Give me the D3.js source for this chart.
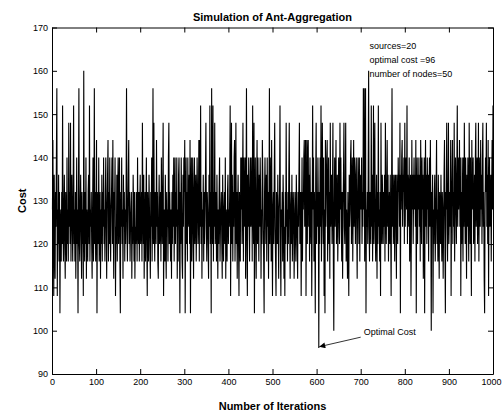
<!DOCTYPE html>
<html>
<head>
<meta charset="utf-8">
<script src="https://cdn.jsdelivr.net/npm/d3@7"></script>
<style>
  body { margin: 0; background: #fff; }
  svg { font-family: Arial, "Liberation Sans", sans-serif; }
  .axis text { font-size: 9px; fill: #000; }
  .axis path, .axis line { stroke: #000; }
  .lbl { font-size: 11px; font-weight: bold; }
  .note { font-size: 9px; }
</style>
</head>
<body>
<div id="div_chart"></div>
<script>
// cost value of every iteration 1..1000
var cost = [
  128,144,124,108,136,120,112,132,124,140, 156,108,128,120,136,116,132,104,124,128, 116,132,120,152,124,116,128,136,120,112, 132,124,116,140,120,128,116,148,124,132, 120,148,116,128,136,124,116,132,152,120,
  128,116,132,112,124,140,120,128,104,132, 156,120,116,128,136,124,112,132,120,128, 108,160,124,116,132,120,140,112,128,124, 116,132,136,120,152,116,128,124,132,120, 112,128,140,116,124,156,120,132,116,128,
  144,104,128,132,120,140,116,124,132,112, 128,120,136,116,132,124,140,120,128,116, 132,140,124,112,128,136,144,116,132,120, 140,124,116,128,132,140,120,144,124,112, 132,128,140,108,124,120,136,116,132,140,
  120,128,140,116,104,132,124,140,120,128, 112,136,124,132,116,128,120,132,156,124, 116,128,136,144,120,132,116,124,128,132, 112,124,120,136,128,116,132,112,124,120, 132,128,116,140,124,120,132,116,128,136,
  120,124,132,116,148,128,120,136,112,124, 132,116,128,140,120,108,132,124,116,136, 128,120,112,132,124,140,116,128,156,120, 148,124,116,132,128,120,144,124,132,116, 112,128,136,120,124,132,116,140,128,120,
  132,148,108,124,128,116,136,120,112,132, 124,128,116,140,148,120,132,124,116,128, 112,132,120,136,124,140,116,128,140,120, 132,124,140,112,128,116,136,140,124,104, 132,120,140,128,116,112,136,124,140,132,
  144,104,128,140,120,132,116,140,124,128, 136,120,144,104,132,140,116,124,140,128, 112,132,140,120,128,136,116,124,140,132, 120,128,144,116,144,124,152,120,132,112, 128,124,136,116,132,120,128,136,148,124,
  116,132,128,120,112,136,124,152,120,132, 104,156,128,120,152,116,132,124,148,120, 128,132,116,136,124,112,128,120,132,140, 116,124,128,132,120,112,136,124,116,128, 132,120,140,112,128,124,116,132,136,120,
  128,124,132,152,108,128,148,120,136,116, 132,124,140,144,116,128,148,120,132,112, 128,136,120,108,132,124,116,140,128,140, 120,132,148,116,140,124,128,140,112,132, 156,120,108,136,124,140,128,116,132,140,
  124,128,140,116,152,132,120,148,104,128, 140,124,112,132,144,120,140,128,116,136, 124,140,132,112,128,120,144,136,124,116, 104,132,140,128,120,136,116,140,124,132, 112,128,156,120,140,132,116,144,124,108,
  128,132,120,136,148,124,116,108,132,128, 120,136,124,112,128,132,152,120,108,128, 124,132,116,136,128,112,124,108,132,120, 148,124,128,116,132,120,136,148,124,112, 128,132,120,136,116,124,132,128,112,120,
  132,124,116,136,128,120,112,132,124,136, 148,120,128,132,108,124,140,116,132,128, 140,144,124,132,144,108,128,144,120,140, 144,124,136,116,140,128,120,132,108,124, 152,128,140,116,132,124,104,136,148,120,
  132,124,140,128,96,132,120,140,124,152, 116,128,148,132,120,140,108,128,104,144, 124,132,140,144,116,128,140,120,132,112, 148,124,128,136,120,132,148,116,100,128, 140,124,132,144,120,128,136,116,124,140,
  132,120,148,128,140,124,116,132,112,128, 136,148,124,120,132,148,116,128,124,112, 132,120,108,136,124,128,140,144,120,132, 140,116,128,144,124,140,132,120,136,140, 124,112,132,140,128,120,140,116,136,132,
  128,140,120,132,124,156,128,156,116,132, 156,104,128,124,132,120,136,160,124,116, 132,128,120,152,124,136,116,128,152,120, 132,148,124,116,128,136,112,132,120,152, 124,128,116,132,108,148,124,120,136,128,
  120,132,124,136,116,148,128,120,132,144, 124,136,116,128,132,120,136,124,108,132, 156,124,136,120,128,136,116,132,136,124, 112,136,128,120,140,132,136,124,148,104, 136,128,140,144,124,136,132,140,120,148,
  124,136,140,128,152,120,136,132,124,140, 116,132,136,108,124,144,128,136,120,132, 140,128,136,124,144,104,132,140,120,136, 128,140,124,136,116,144,132,120,140,128, 136,112,128,140,104,132,144,124,136,120,
  140,128,136,116,132,140,124,144,128,100, 132,124,136,104,128,120,132,136,116,124, 132,144,120,128,116,136,124,112,132,128, 120,136,124,116,132,128,112,124,136,144, 120,104,132,128,148,124,116,132,148,120,
  128,132,124,144,108,128,136,144,120,132, 124,148,116,128,140,132,120,136,152,124, 140,128,132,144,124,140,108,132,120,140, 128,116,140,124,148,132,120,140,128,112, 136,124,140,128,116,148,132,120,140,124,
  108,144,128,132,140,120,124,136,116,140, 148,124,132,140,120,128,148,116,132,140, 124,144,128,136,120,140,148,124,132,112, 104,128,140,132,148,124,136,120,144,108, 132,140,124,128,136,116,132,144,128,152
];

var xTicks = [0, 100, 200, 300, 400, 500, 600, 700, 800, 900, 1000];
var yTicks = [90, 100, 110, 120, 130, 140, 150, 160, 170];
var notes = ["sources=20", "optimal cost =96", "number of nodes=50"];
var optimal = {iter: 605, cost: 96, label: "Optimal Cost"};

var margin = {top: 27.5, right: 9, bottom: 43, left: 52},
  width = 502 - margin.left - margin.right,
  height = 417 - margin.top - margin.bottom;

var x = d3.scaleLinear()
  .domain([0, 1000])
  .range([0, width]);

var y = d3.scaleLinear()
  .domain([90, 170])
  .range([height, 0]);

var svg = d3.select('#div_chart')
  .append('svg')
    .attr('width', 502)
    .attr('height', 417)
    .append('g')
      .attr('transform', 'translate(' + margin.left + ',' + margin.top + ')');

// the cost trace
var line = d3.line()
  .x(function(d, i) { return x(i + 1); })
  .y(function(d) { return y(d); });

svg.append('path')
  .datum(cost)
  .attr('d', line)
  .attr('fill', 'none')
  .attr('stroke', '#000')
  .attr('stroke-width', 1.1);

// box with inward ticks on all sides
var xAxis = svg.append('g')
  .attr('class', 'axis')
  .attr('transform', 'translate(0,' + height + ')')
  .call(d3.axisBottom(x).tickValues(xTicks).tickFormat(d3.format('d'))
    .tickSizeInner(-5).tickSizeOuter(0).tickPadding(5));

// keep the last label inside the window
xAxis.selectAll('.tick text')
  .filter(function(d) { return d === 1000; })
  .attr('text-anchor', 'end')
  .attr('dx', '0.9em');

svg.append('g')
  .attr('class', 'axis')
  .call(d3.axisTop(x).tickValues(xTicks).tickSizeInner(-5).tickSizeOuter(0).tickFormat(''));

svg.append('g')
  .attr('class', 'axis')
  .call(d3.axisLeft(y).tickValues(yTicks).tickSizeInner(-5).tickSizeOuter(0).tickPadding(4));

svg.append('g')
  .attr('class', 'axis')
  .attr('transform', 'translate(' + width + ',0)')
  .call(d3.axisRight(y).tickValues(yTicks).tickSizeInner(-5).tickSizeOuter(0).tickFormat(''));

// titles
svg.append('text')
  .attr('class', 'lbl')
  .attr('x', width / 2)
  .attr('y', -7)
  .attr('text-anchor', 'middle')
  .text('Simulation of Ant-Aggregation');

svg.append('text')
  .attr('class', 'lbl')
  .attr('x', width / 2)
  .attr('y', height + 36)
  .attr('text-anchor', 'middle')
  .text('Number of Iterations');

svg.append('text')
  .attr('class', 'lbl')
  .attr('transform', 'translate(-26,' + (height / 2) + ') rotate(-90)')
  .attr('text-anchor', 'middle')
  .text('Cost');

// parameter notes
svg.selectAll('.note-top')
  .data(notes)
  .enter().append('text')
  .attr('class', 'note')
  .attr('x', x(720))
  .attr('y', function(d, i) { return y(165 - i * 3.2); })
  .text(function(d) { return d; });

// optimal cost arrow
svg.append('defs').append('marker')
  .attr('id', 'head')
  .attr('viewBox', '0 0 10 10')
  .attr('refX', 10).attr('refY', 5)
  .attr('markerWidth', 8).attr('markerHeight', 6)
  .attr('markerUnits', 'userSpaceOnUse')
  .attr('orient', 'auto')
  .append('path')
    .attr('d', 'M0,0L10,5L0,10Z')
    .attr('fill', '#000');

svg.append('line')
  .attr('x1', x(700)).attr('y1', y(98.5))
  .attr('x2', x(optimal.iter + 1)).attr('y2', y(optimal.cost + 0.3))
  .attr('stroke', '#000')
  .attr('stroke-width', 0.8)
  .attr('marker-end', 'url(#head)');

svg.append('text')
  .attr('class', 'note')
  .attr('x', x(707))
  .attr('y', y(99))
  .text(optimal.label);
</script>
</body>
</html>
